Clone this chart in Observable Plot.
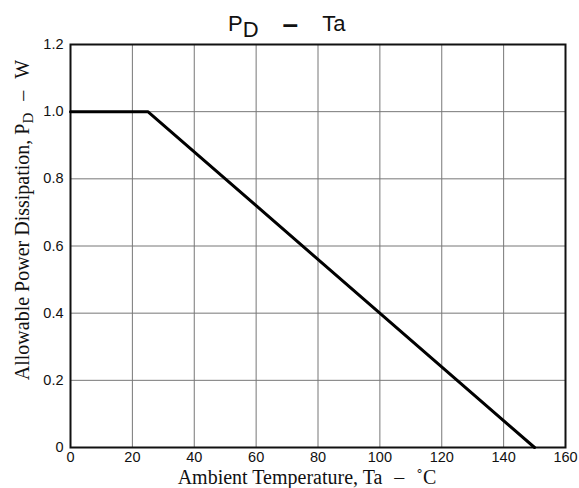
<!DOCTYPE html>
<html>
<head>
<meta charset="utf-8">
<script src="https://cdn.jsdelivr.net/npm/d3@7"></script>
<script src="https://cdn.jsdelivr.net/npm/@observablehq/plot@0.6"></script>
<style>
  html, body { margin: 0; padding: 0; background: #fff; }
  #wrap { position: relative; width: 579px; height: 488px; overflow: hidden; }
  #topline { position: absolute; left: 0; top: 4px; width: 579px; height: 2px; background: #777; }
  #wrap svg { position: absolute; left: 0; top: 0; }
</style>
</head>
<body>
<div id="wrap"><div id="topline"></div></div>
<script>
const temps = [0, 25, 150];
const power = [1.0, 1.0, 0];
const xTicks = [0, 20, 40, 60, 80, 100, 120, 140, 160];
const yTicks = [0, 0.2, 0.4, 0.6, 0.8, 1.0, 1.2];
const titleParts = ["P", "D", "–", "Ta"];
const yLabelParts = ["Allowable Power Dissipation, P", "D", "–", "W"];
const xLabelParts = ["Ambient Temperature, Ta", "–", "˚C"];

const data = temps.map((t, i) => ({t, p: power[i]}));

const chart = Plot.plot({
  width: 579,
  height: 488,
  marginLeft: 70,
  marginRight: 14,
  marginTop: 44,
  marginBottom: 41,
  style: {fontFamily: "'Liberation Sans', Arial, sans-serif", fontSize: "14px", background: "white"},
  x: {domain: [0, 160]},
  y: {domain: [0, 1.2]},
  marks: [
    Plot.ruleX(xTicks, {stroke: "#777", strokeWidth: 1}),
    Plot.ruleY(yTicks, {stroke: "#777", strokeWidth: 1}),
    Plot.frame({stroke: "#111", strokeWidth: 2}),
    Plot.line(data, {x: "t", y: "p", stroke: "#000", strokeWidth: 3}),
    Plot.axisX(xTicks, {tickSize: 0, tickPadding: 4, label: null, fontSize: 14.5, fill: "#111"}),
    Plot.axisY(yTicks, {tickSize: 0, tickPadding: 7, label: null, fontSize: 14.5, fill: "#111",
      tickFormat: d => d === 0 ? "0" : d.toFixed(1)})
  ]
});
document.getElementById("wrap").appendChild(chart);

const svg = d3.select(chart);
// title
const t = svg.append("text")
  .attr("x", 228).attr("y", 31)
  .attr("text-anchor", "start")
  .attr("font-family", "'Liberation Sans', Arial, sans-serif")
  .attr("font-size", 22)
  .attr("fill", "#111");
t.append("tspan").text(titleParts[0]);
t.append("tspan").attr("dy", 6).text(titleParts[1]);
t.append("tspan").attr("dy", -4).attr("dx", 24).attr("font-weight", "bold").attr("font-size", 28).text(titleParts[2]);
t.append("tspan").attr("dy", -2).attr("dx", 24).text(titleParts[3]);

// y label
const yl = svg.append("text")
  .attr("transform", "translate(29,220) rotate(-90)")
  .attr("text-anchor", "middle")
  .attr("font-family", "'Liberation Serif', 'Times New Roman', serif")
  .attr("font-size", 20)
  .attr("fill", "#111");
yl.append("tspan").text(yLabelParts[0]);
yl.append("tspan").attr("dy", 4).attr("font-size", 15).text(yLabelParts[1]);
yl.append("tspan").attr("dy", -4).attr("dx", 12).text(yLabelParts[2]);
yl.append("tspan").attr("dx", 12).text(yLabelParts[3]);

// x label
const xl = svg.append("text")
  .attr("x", 307).attr("y", 484)
  .attr("text-anchor", "middle")
  .attr("font-family", "'Liberation Serif', 'Times New Roman', serif")
  .attr("font-size", 20)
  .attr("fill", "#111");
xl.append("tspan").text(xLabelParts[0]);
xl.append("tspan").attr("dx", 12).text(xLabelParts[1]);
xl.append("tspan").attr("dx", 12).text(xLabelParts[2]);
</script>
</body>
</html>
